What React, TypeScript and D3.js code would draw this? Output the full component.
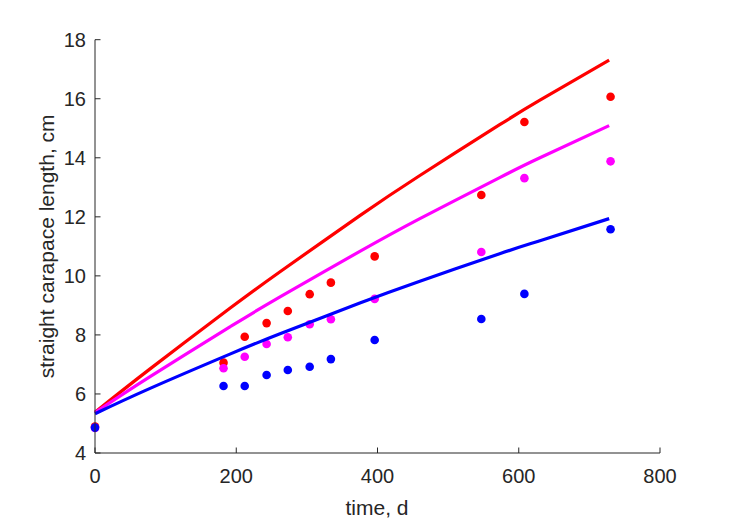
import React from "react";
import * as d3 from "d3";

// Observed data (time in days, straight carapace length in cm)
const obsDays = [0, 182, 212, 243, 273, 304, 334, 396, 547, 608, 730];
const redObs = [4.9, 7.06, 7.94, 8.4, 8.81, 9.38, 9.77, 10.66, 12.74, 15.21, 16.07];
const magentaObs = [4.85, 6.87, 7.26, 7.69, 7.92, 8.36, 8.53, 9.22, 10.81, 13.31, 13.88];
const blueObs = [4.86, 6.27, 6.27, 6.64, 6.81, 6.92, 7.18, 7.83, 8.54, 9.39, 11.58];

// Model curves
const curveDays = [0, 78, 191, 262, 375, 460, 573, 630, 728];
const redCurve = [5.38, 6.85, 8.9, 10.14, 12.04, 13.4, 15.12, 15.95, 17.31];
const magentaCurve = [5.37, 6.59, 8.27, 9.29, 10.83, 11.94, 13.33, 14.0, 15.09];
const blueCurve = [5.33, 6.19, 7.35, 8.04, 9.08, 9.82, 10.75, 11.19, 11.94];

const xTicks = [0, 200, 400, 600, 800];
const yTicks = [4, 6, 8, 10, 12, 14, 16, 18];

const seriesColors = ["#ff0000", "#ff00ff", "#0000ff"];
const obsSeries = [redObs, magentaObs, blueObs];
const curveSeries = [redCurve, magentaCurve, blueCurve];

export default function App() {
  const W = 729;
  const H = 521;
  const x = d3.scaleLinear().domain([0, 800]).range([95, 660]);
  const y = d3.scaleLinear().domain([4, 18]).range([453, 39.7]);
  const axisColor = "#262626";
  const font = "'Liberation Sans', Arial, Helvetica, sans-serif";

  const line = d3
    .line<number>()
    .x((_, i) => x(curveDays[i]))
    .y((d) => y(d))
    .curve(d3.curveNatural);

  return (
    <svg
      width={W}
      height={H}
      style={{ position: "absolute", left: 0, top: 0, background: "#fff" }}
      fontFamily={font}
    >
      <rect x={0} y={0} width={W} height={H} fill="#ffffff" />
      {/* observations */}
      {obsSeries.map((s, si) =>
        s.map((v, i) => (
          <circle
            key={`o${si}-${i}`}
            cx={x(obsDays[i])}
            cy={y(v)}
            r={4.3}
            fill={seriesColors[si]}
          />
        ))
      )}
      {/* model curves */}
      {curveSeries.map((s, si) => (
        <path
          key={`c${si}`}
          d={line(s) || ""}
          fill="none"
          stroke={seriesColors[si]}
          strokeWidth={3.2}
        />
      ))}
      {/* axes */}
      <line x1={x(0)} x2={x(800)} y1={y(4)} y2={y(4)} stroke={axisColor} strokeWidth={1} />
      <line x1={x(0)} x2={x(0)} y1={y(4)} y2={y(18)} stroke={axisColor} strokeWidth={1} />
      {xTicks.map((t) => (
        <g key={`xt${t}`}>
          <line x1={x(t)} x2={x(t)} y1={y(4)} y2={y(4) - 5.5} stroke={axisColor} strokeWidth={1} />
          <text x={x(t)} y={483} textAnchor="middle" fontSize={20} fill={axisColor}>
            {t}
          </text>
        </g>
      ))}
      {yTicks.map((t) => (
        <g key={`yt${t}`}>
          <line x1={x(0)} x2={x(0) + 5.5} y1={y(t)} y2={y(t)} stroke={axisColor} strokeWidth={1} />
          <text
            x={86}
            y={y(t)}
            dy="0.36em"
            textAnchor="end"
            fontSize={20}
            fill={axisColor}
          >
            {t}
          </text>
        </g>
      ))}
      <text x={377} y={515} textAnchor="middle" fontSize={21} fill={axisColor}>
        time, d
      </text>
      <text
        transform={`translate(54, ${y(11)}) rotate(-90)`}
        textAnchor="middle"
        fontSize={21}
        fill={axisColor}
      >
        straight carapace length, cm
      </text>
    </svg>
  );
}
